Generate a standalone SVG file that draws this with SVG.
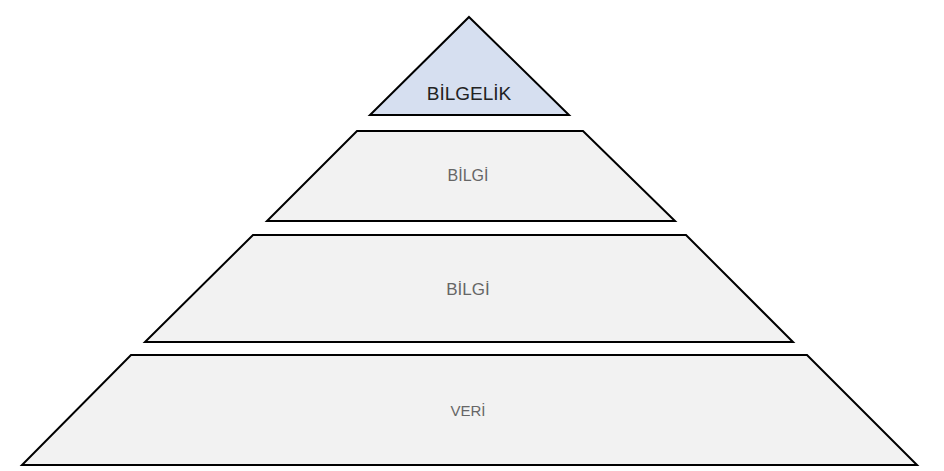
<svg xmlns="http://www.w3.org/2000/svg" width="944" height="471" viewBox="0 0 944 471">
<style>
.s{stroke:#000;stroke-width:2;stroke-linejoin:miter}
.g{fill:#f2f2f2}
.t{font-family:"Liberation Sans",Arial,sans-serif;text-anchor:middle;fill:#666;font-size:16px}
</style>
<rect width="944" height="471" fill="#fff"/>
<g id="bilgelik"><polygon class="s" fill="#d6dff0" points="469,17 569,115 370,115"/><text class="t" x="469" y="100" style="fill:#222;font-size:19px">BİLGELİK</text></g>
<g id="bilgi1"><polygon class="s g" points="357,131 583,131 675,221 267,221"/><text class="t" x="468" y="181">BİLGİ</text></g>
<g id="bilgi2"><polygon class="s g" points="253,235 686,235 793,342 145,342"/><text class="t" x="468" y="295" style="font-size:17px">BİLGİ</text></g>
<g id="veri"><polygon class="s g" points="131,355 807,355 917,465 22,465"/><text class="t" x="468" y="416" style="font-size:15px">VERİ</text></g>
<g id="connectors"/>
</svg>
